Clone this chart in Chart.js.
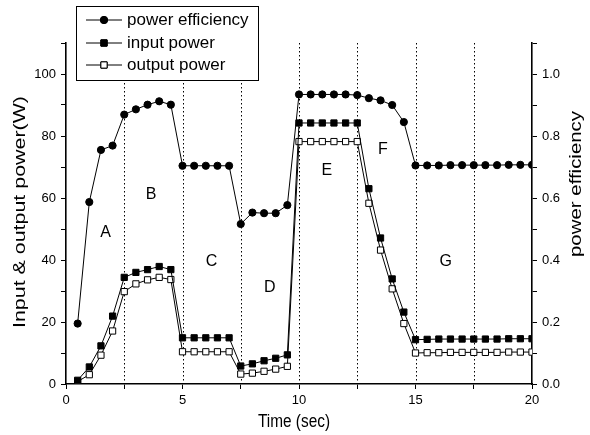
<!DOCTYPE html>
<html>
<head>
<meta charset="utf-8">
<script src="https://cdn.jsdelivr.net/npm/chart.js@4.4.1/dist/chart.umd.min.js"></script>
<style>
  html, body { margin: 0; padding: 0; background: #fff; }
  #wrap { width: 590px; height: 435px; position: relative; }
</style>
</head>
<body>
<div id="wrap"><canvas id="powerChart"></canvas></div>
<script>
// sample times (sec)
const timeSec = [0.5, 1, 1.5, 2, 2.5, 3, 3.5, 4, 4.5, 5,
  5.5, 6, 6.5, 7, 7.5, 8, 8.5, 9, 9.5, 10,
  10.5, 11, 11.5, 12, 12.5, 13, 13.5, 14, 14.5, 15,
  15.5, 16, 16.5, 17, 17.5, 18, 18.5, 19, 19.5, 20];

// right axis
const efficiency = [0.195, 0.587, 0.755, 0.769, 0.869, 0.886, 0.901, 0.912, 0.901, 0.704,
  0.704, 0.704, 0.704, 0.704, 0.516, 0.553, 0.551, 0.551, 0.577, 0.934,
  0.934, 0.934, 0.934, 0.934, 0.932, 0.922, 0.915, 0.9, 0.845, 0.705,
  0.705, 0.705, 0.706, 0.706, 0.706, 0.706, 0.706, 0.707, 0.707, 0.707];

// left axis (W)
const inputPower = [1.2, 5.5, 12.3, 21.9, 34.4, 36.0, 36.9, 37.9, 36.9, 14.9,
  14.9, 14.9, 14.9, 14.9, 5.8, 6.5, 7.5, 8.3, 9.4, 84.2,
  84.2, 84.2, 84.2, 84.2, 84.2, 63.0, 47.1, 33.9, 23.2, 14.3,
  14.4, 14.5, 14.5, 14.5, 14.5, 14.5, 14.5, 14.6, 14.6, 14.6];

const outputPower = [0.8, 3.0, 9.3, 17.1, 29.8, 32.3, 33.6, 34.4, 33.7, 10.4,
  10.4, 10.4, 10.4, 10.4, 3.2, 3.5, 4.1, 4.8, 5.7, 78.2,
  78.2, 78.2, 78.2, 78.2, 78.2, 58.3, 43.2, 30.7, 19.5, 10.0,
  10.1, 10.1, 10.2, 10.2, 10.2, 10.2, 10.2, 10.3, 10.3, 10.3];

// phase boundaries and labels
const phaseLines = [2.5, 5, 7.5, 10, 12.5, 15, 17.5];
const phaseNames = ['A', 'B', 'C', 'D', 'E', 'F', 'G'];
const phaseTime = [1.7, 3.65, 6.25, 8.75, 11.2, 13.6, 16.3];
const phaseLevel = [49, 61, 39.5, 31, 69, 75.5, 39.5];

// tick labels
const timeTicks = [0, 5, 10, 15, 20];
const powerTicks = [0, 20, 40, 60, 80, 100];
const effTicks = [0, 0.2, 0.4, 0.6, 0.8, 1.0];

const FONT = '"Liberation Sans", Arial, sans-serif';

function pts(ys) {
  return timeSec.map((t, i) => ({ x: t, y: ys[i] }));
}

function hasTick(list, v) {
  return list.some(t => Math.abs(t - v) < 1e-6);
}

function stretchText(ctx, text, cx, cy, rot, size, len, sy) {
  ctx.save();
  ctx.font = size + 'px ' + FONT;
  const w = ctx.measureText(text).width;
  ctx.translate(cx, cy);
  ctx.rotate(rot);
  ctx.scale(len / w, sy || 1);
  ctx.textAlign = 'center';
  ctx.textBaseline = 'middle';
  ctx.fillStyle = '#000';
  ctx.fillText(text, 0, 0);
  ctx.restore();
}

// dotted phase lines, behind the data
const phasePlugin = {
  id: 'phases',
  beforeDatasetsDraw(chart) {
    const { ctx, chartArea, scales } = chart;
    ctx.save();
    ctx.strokeStyle = '#000';
    ctx.lineWidth = 1;
    ctx.setLineDash([1.5, 2.5]);
    phaseLines.forEach(t => {
      const x = Math.round(scales.x.getPixelForValue(t)) + 0.5;
      ctx.beginPath();
      ctx.moveTo(x, chartArea.top);
      ctx.lineTo(x, chartArea.bottom);
      ctx.stroke();
    });
    ctx.restore();
  },
  afterDatasetsDraw(chart) {
    const { ctx, scales } = chart;
    ctx.save();
    ctx.fillStyle = '#000';
    ctx.font = '16px ' + FONT;
    ctx.textAlign = 'center';
    ctx.textBaseline = 'middle';
    phaseNames.forEach((n, i) => {
      ctx.fillText(n, scales.x.getPixelForValue(phaseTime[i]), scales.y.getPixelForValue(phaseLevel[i]));
    });
    ctx.restore();
  }
};

// axis titles + boxed legend
const framePlugin = {
  id: 'frame',
  afterDraw(chart) {
    const ctx = chart.ctx;
    stretchText(ctx, 'Input & output power(W)', 20, 212, -Math.PI / 2, 17, 232);
    stretchText(ctx, 'power efficiency', 576, 184, -Math.PI / 2, 17, 146);
    stretchText(ctx, 'Time (sec)', 294, 422, 0, 17, 72, 1.1);

    // legend box
    const bx = 76, by = 6, bw = 182, bh = 74;
    ctx.save();
    ctx.fillStyle = '#fff';
    ctx.fillRect(bx, by, bw, bh);
    ctx.strokeStyle = '#000';
    ctx.lineWidth = 1;
    ctx.strokeRect(bx + 0.5, by + 0.5, bw, bh);
    const rows = [20, 43, 65];
    chart.data.datasets.forEach((ds, i) => {
      const y = rows[i];
      ctx.beginPath();
      ctx.moveTo(86, y);
      ctx.lineTo(122, y);
      ctx.lineWidth = 1;
      ctx.strokeStyle = '#000';
      ctx.stroke();
      Chart.helpers.drawPoint(ctx, {
        pointStyle: ds.pointStyle,
        radius: ds.pointRadius,
        borderWidth: 1
      }, 104, y);
      ctx.fillStyle = ds.pointBackgroundColor;
      ctx.strokeStyle = '#000';
      ctx.fill();
      ctx.stroke();
      ctx.fillStyle = '#000';
      ctx.font = '17px ' + FONT;
      ctx.textAlign = 'left';
      ctx.textBaseline = 'middle';
      ctx.fillText(ds.label, 127, y);
    });
    ctx.restore();
  }
};

const baseLine = {
  borderColor: '#000',
  borderWidth: 1,
  pointBorderColor: '#000',
  pointBorderWidth: 1,
  tension: 0
};

new Chart(document.getElementById('powerChart'), {
  type: 'line',
  data: {
    datasets: [
      Object.assign({}, baseLine, {
        label: 'power efficiency',
        data: pts(efficiency),
        yAxisID: 'y1',
        pointStyle: 'circle',
        pointRadius: 3.6,
        pointBackgroundColor: '#000'
      }),
      Object.assign({}, baseLine, {
        label: 'input power',
        data: pts(inputPower),
        yAxisID: 'y',
        pointStyle: 'rect',
        pointRadius: 4.4,
        pointBackgroundColor: '#000'
      }),
      Object.assign({}, baseLine, {
        label: 'output power',
        data: pts(outputPower),
        yAxisID: 'y',
        pointStyle: 'rect',
        pointRadius: 4.4,
        pointBackgroundColor: '#fff'
      })
    ]
  },
  options: {
    responsive: true,
    maintainAspectRatio: false,
    animation: false,
    layout: { padding: { top: 43, left: 0, right: 0, bottom: 0 } },
    plugins: {
      legend: { display: false },
      title: { display: false },
      tooltip: { enabled: false }
    },
    scales: {
      x: {
        type: 'linear',
        min: 0,
        max: 20,
        afterFit: s => { s.height = 51; },
        ticks: {
          stepSize: 2.5,
          autoSkip: false,
          maxRotation: 0,
          padding: 4,
          color: '#000',
          font: { family: FONT, size: 13 },
          callback: v => hasTick(timeTicks, v) ? String(v) : ''
        },
        grid: { drawOnChartArea: false, tickLength: 5, tickColor: '#000', tickWidth: 1 },
        border: { color: '#000', width: 1.6 }
      },
      y: {
        position: 'left',
        min: 0,
        max: 110,
        afterFit: s => { s.width = 66; },
        ticks: {
          stepSize: 10,
          padding: 5,
          color: '#000',
          font: { family: FONT, size: 13 },
          callback: v => hasTick(powerTicks, v) ? String(v) : ''
        },
        grid: { drawOnChartArea: false, tickLength: 5, tickColor: '#000', tickWidth: 1 },
        border: { color: '#000', width: 1.6 }
      },
      y1: {
        position: 'right',
        min: 0,
        max: 1.1,
        afterFit: s => { s.width = 58; },
        ticks: {
          stepSize: 0.1,
          padding: 5,
          color: '#000',
          font: { family: FONT, size: 13 },
          callback: v => hasTick(effTicks, v) ? v.toFixed(1) : ''
        },
        grid: { drawOnChartArea: false, tickLength: 5, tickColor: '#000', tickWidth: 1 },
        border: { color: '#000', width: 1.6 }
      }
    }
  },
  plugins: [phasePlugin, framePlugin]
});
</script>
</body>
</html>
